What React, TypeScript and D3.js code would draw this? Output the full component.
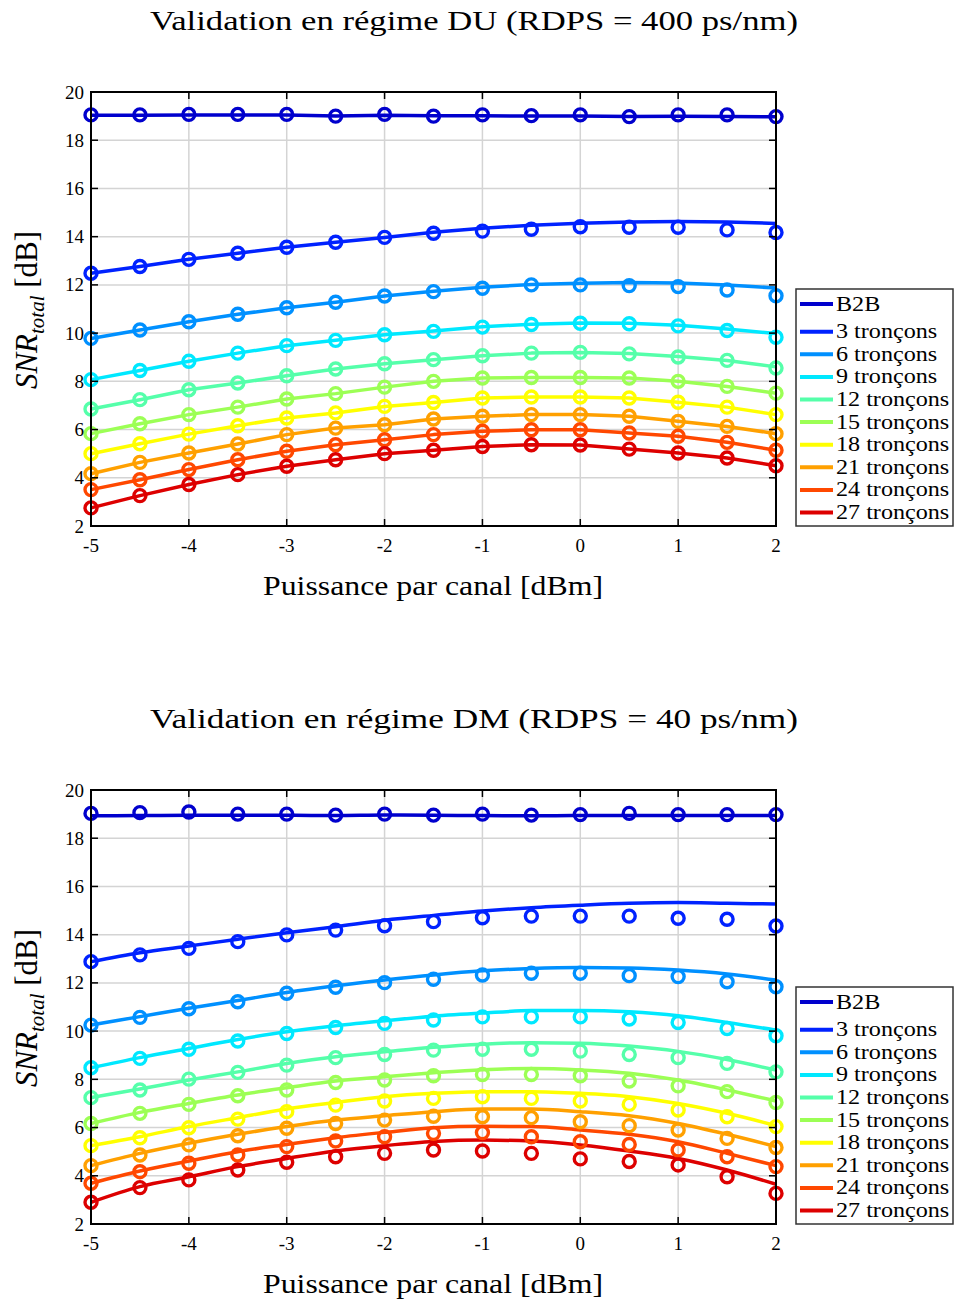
import React from "react";
import * as d3 from "d3";

// ---------- data ----------
const powers = [-5, -4.5, -4, -3.5, -3, -2.5, -2, -1.5, -1, -0.5, 0, 0.5, 1, 1.5, 2];
const seriesNames = ["B2B", "3 tronçons", "6 tronçons", "9 tronçons", "12 tronçons", "15 tronçons", "18 tronçons", "21 tronçons", "24 tronçons", "27 tronçons"];
const seriesColors = ["#0000cd", "#0022ff", "#0090ff", "#00e8ff", "#55ffaa", "#9cff55", "#ffff00", "#ffa000", "#ff4800", "#dd0000"];
const xTicks = [-5, -4, -3, -2, -1, 0, 1, 2];
const yTicks = [2, 4, 6, 8, 10, 12, 14, 16, 18, 20];

// DU regime (RDPS = 400 ps/nm) — measured (markers)
const duMesB2B = [19.05, 19.05, 19.07, 19.07, 19.07, 19.0, 19.07, 19.0, 19.05, 19.02, 19.05, 18.98, 19.05, 19.05, 18.98];
const duMes3 = [12.48, 12.76, 13.06, 13.31, 13.56, 13.77, 13.97, 14.14, 14.23, 14.31, 14.41, 14.39, 14.39, 14.28, 14.17];
const duMes6 = [9.78, 10.13, 10.47, 10.78, 11.05, 11.28, 11.54, 11.72, 11.86, 12.0, 12.0, 11.97, 11.93, 11.79, 11.55];
const duMes9 = [8.07, 8.45, 8.83, 9.17, 9.48, 9.7, 9.93, 10.07, 10.25, 10.36, 10.41, 10.39, 10.3, 10.11, 9.83];
const duMes12 = [6.85, 7.24, 7.65, 7.93, 8.23, 8.51, 8.73, 8.9, 9.06, 9.17, 9.2, 9.14, 9.01, 8.87, 8.55];
const duMes15 = [5.83, 6.24, 6.62, 6.93, 7.27, 7.49, 7.76, 8.0, 8.14, 8.16, 8.16, 8.14, 8.0, 7.79, 7.51];
const duMes18 = [5.0, 5.41, 5.81, 6.16, 6.48, 6.69, 6.96, 7.12, 7.31, 7.35, 7.35, 7.31, 7.13, 6.93, 6.62];
const duMes21 = [4.17, 4.64, 5.03, 5.4, 5.79, 6.06, 6.2, 6.44, 6.55, 6.62, 6.62, 6.55, 6.34, 6.13, 5.83];
const duMes24 = [3.51, 3.92, 4.34, 4.75, 5.1, 5.37, 5.58, 5.79, 5.93, 5.99, 5.99, 5.86, 5.72, 5.47, 5.14];
const duMes27 = [2.75, 3.26, 3.72, 4.13, 4.48, 4.75, 5.0, 5.14, 5.3, 5.37, 5.36, 5.19, 5.03, 4.82, 4.5];

// DU regime — model (lines)
const duSimB2B = [19.04, 19.04, 19.05, 19.05, 19.05, 19.0, 19.04, 19.01, 19.01, 19.0, 19.0, 18.98, 18.99, 18.98, 18.97];
const duSim3 = [12.48, 12.76, 13.06, 13.31, 13.56, 13.77, 13.97, 14.18, 14.35, 14.47, 14.56, 14.61, 14.63, 14.61, 14.55];
const duSim6 = [9.78, 10.13, 10.47, 10.78, 11.05, 11.28, 11.54, 11.74, 11.9, 12.02, 12.07, 12.1, 12.08, 12.0, 11.87];
const duSim9 = [8.07, 8.45, 8.83, 9.17, 9.48, 9.7, 9.93, 10.09, 10.26, 10.37, 10.42, 10.41, 10.33, 10.17, 9.98];
const duSim12 = [6.85, 7.24, 7.65, 7.93, 8.23, 8.51, 8.73, 8.9, 9.06, 9.17, 9.2, 9.15, 9.03, 8.86, 8.6];
const duSim15 = [5.83, 6.24, 6.62, 6.93, 7.27, 7.49, 7.76, 8.0, 8.14, 8.16, 8.16, 8.14, 8.0, 7.79, 7.51];
const duSim18 = [5.0, 5.41, 5.81, 6.16, 6.48, 6.69, 6.96, 7.12, 7.31, 7.35, 7.35, 7.31, 7.13, 6.93, 6.62];
const duSim21 = [4.17, 4.64, 5.03, 5.4, 5.79, 6.06, 6.2, 6.44, 6.55, 6.62, 6.62, 6.55, 6.34, 6.13, 5.83];
const duSim24 = [3.51, 3.92, 4.34, 4.75, 5.1, 5.37, 5.58, 5.79, 5.93, 5.99, 5.99, 5.86, 5.72, 5.47, 5.14];
const duSim27 = [2.75, 3.26, 3.72, 4.13, 4.48, 4.75, 5.0, 5.14, 5.3, 5.37, 5.36, 5.19, 5.03, 4.82, 4.5];

// DM regime (RDPS = 40 ps/nm) — measured (markers)
const dmMesB2B = [19.03, 19.06, 19.09, 19.0, 19.0, 18.96, 19.0, 18.96, 19.0, 18.96, 18.98, 19.03, 18.98, 18.98, 18.98];
const dmMes3 = [12.88, 13.16, 13.43, 13.71, 13.99, 14.19, 14.37, 14.54, 14.7, 14.77, 14.77, 14.77, 14.68, 14.64, 14.36];
const dmMes6 = [10.25, 10.57, 10.93, 11.22, 11.57, 11.82, 12.01, 12.15, 12.33, 12.4, 12.4, 12.3, 12.26, 12.05, 11.84];
const dmMes9 = [8.48, 8.87, 9.25, 9.59, 9.9, 10.15, 10.32, 10.46, 10.59, 10.59, 10.59, 10.5, 10.36, 10.11, 9.81];
const dmMes12 = [7.24, 7.56, 8.01, 8.29, 8.59, 8.9, 9.03, 9.21, 9.25, 9.25, 9.17, 9.03, 8.9, 8.66, 8.31];
const dmMes15 = [6.17, 6.59, 6.96, 7.32, 7.56, 7.87, 7.97, 8.15, 8.2, 8.2, 8.15, 7.93, 7.73, 7.49, 7.04];
const dmMes18 = [5.25, 5.58, 5.99, 6.35, 6.66, 6.93, 7.1, 7.21, 7.28, 7.21, 7.1, 6.96, 6.73, 6.45, 6.04];
const dmMes21 = [4.42, 4.86, 5.28, 5.66, 5.97, 6.17, 6.31, 6.47, 6.45, 6.41, 6.24, 6.08, 5.9, 5.55, 5.17];
const dmMes24 = [3.69, 4.17, 4.52, 4.86, 5.21, 5.44, 5.62, 5.76, 5.79, 5.62, 5.41, 5.3, 5.07, 4.79, 4.38];
const dmMes27 = [2.9, 3.51, 3.83, 4.24, 4.56, 4.79, 4.93, 5.07, 5.03, 4.93, 4.7, 4.59, 4.45, 3.96, 3.27];

// DM regime — model (lines)
const dmSimB2B = [18.93, 18.94, 18.95, 18.95, 18.95, 18.94, 18.96, 18.95, 18.94, 18.93, 18.94, 18.94, 18.94, 18.94, 18.94];
const dmSim3 = [12.88, 13.25, 13.53, 13.81, 14.08, 14.33, 14.6, 14.8, 14.98, 15.12, 15.22, 15.3, 15.33, 15.3, 15.27];
const dmSim6 = [10.25, 10.6, 10.95, 11.27, 11.6, 11.88, 12.12, 12.33, 12.5, 12.6, 12.64, 12.62, 12.53, 12.37, 12.12];
const dmSim9 = [8.48, 8.9, 9.28, 9.65, 9.97, 10.22, 10.43, 10.62, 10.75, 10.85, 10.86, 10.8, 10.64, 10.36, 10.04];
const dmSim12 = [7.24, 7.6, 7.97, 8.31, 8.66, 8.94, 9.14, 9.33, 9.46, 9.52, 9.5, 9.38, 9.16, 8.82, 8.38];
const dmSim15 = [6.17, 6.63, 7.0, 7.35, 7.65, 7.93, 8.11, 8.27, 8.4, 8.45, 8.39, 8.25, 7.97, 7.56, 7.1];
const dmSim18 = [5.25, 5.62, 6.04, 6.41, 6.77, 7.04, 7.28, 7.42, 7.49, 7.49, 7.42, 7.28, 7.0, 6.59, 6.08];
const dmSim21 = [4.42, 4.93, 5.35, 5.72, 6.04, 6.31, 6.49, 6.66, 6.77, 6.77, 6.66, 6.49, 6.17, 5.72, 5.21];
const dmSim24 = [3.69, 4.2, 4.61, 5.0, 5.3, 5.58, 5.8, 5.99, 6.05, 6.04, 5.9, 5.72, 5.41, 4.93, 4.42];
const dmSim27 = [2.9, 3.55, 3.96, 4.38, 4.72, 5.03, 5.25, 5.42, 5.48, 5.44, 5.28, 5.03, 4.72, 4.24, 3.65];

const duMes = [duMesB2B, duMes3, duMes6, duMes9, duMes12, duMes15, duMes18, duMes21, duMes24, duMes27];
const duSim = [duSimB2B, duSim3, duSim6, duSim9, duSim12, duSim15, duSim18, duSim21, duSim24, duSim27];
const dmMes = [dmMesB2B, dmMes3, dmMes6, dmMes9, dmMes12, dmMes15, dmMes18, dmMes21, dmMes24, dmMes27];
const dmSim = [dmSimB2B, dmSim3, dmSim6, dmSim9, dmSim12, dmSim15, dmSim18, dmSim21, dmSim24, dmSim27];

const FONT = "'Liberation Serif', 'Times New Roman', serif";

type PanelProps = {
  oy: number;
  title: string;
  mes: number[][];
  sim: number[][];
  smooth: boolean;
};

function Panel({ oy, title, mes, sim, smooth }: PanelProps) {
  const left = 91, right = 776, top = 92 + oy, bottom = 526 + oy;
  const x = d3.scaleLinear().domain([-5, 2]).range([left, right]);
  const y = d3.scaleLinear().domain([2, 20]).range([bottom, top]);
  const line = d3
    .line<number>()
    .x((_, i) => x(powers[i]))
    .y((v) => y(v))
    .curve(smooth ? d3.curveMonotoneX : d3.curveLinear);
  const tickLen = 7;
  const legX = 796, legY = 289 + oy;
  const legendYs = seriesNames.map((_, i) => (i === 0 ? 304 : 331.7 + (i - 1) * 22.6) + oy);
  return (
    <g>
      <text x={474} y={30 + oy} fontFamily={FONT} fontSize={28} textAnchor="middle" textLength={648} lengthAdjust="spacingAndGlyphs">
        Validation en régime {title}
      </text>
      {/* grid */}
      {xTicks.map((t) => (
        <line key={"gx" + t} x1={x(t)} x2={x(t)} y1={top} y2={bottom} stroke="#d4d4d4" strokeWidth={1.5} />
      ))}
      {yTicks.map((t) => (
        <line key={"gy" + t} x1={left} x2={right} y1={y(t)} y2={y(t)} stroke="#d4d4d4" strokeWidth={1.5} />
      ))}
      {/* series lines */}
      {sim.map((s, i) => (
        <path key={"l" + i} d={line(s) || ""} fill="none" stroke={seriesColors[i]} strokeWidth={3.5} strokeLinejoin="round" />
      ))}
      {/* markers */}
      {mes.map((s, i) =>
        s.map((v, j) => (
          <circle key={"m" + i + "-" + j} cx={x(powers[j])} cy={y(v)} r={6} fill="none" stroke={seriesColors[i]} strokeWidth={3.4} />
        ))
      )}
      {/* axes box */}
      <rect x={left} y={top} width={right - left} height={bottom - top} fill="none" stroke="#000" strokeWidth={2} />
      {xTicks.map((t) => (
        <g key={"xt" + t}>
          <line x1={x(t)} x2={x(t)} y1={bottom} y2={bottom - tickLen} stroke="#000" strokeWidth={1.5} />
          <line x1={x(t)} x2={x(t)} y1={top} y2={top + tickLen} stroke="#000" strokeWidth={1.5} />
          <text x={x(t)} y={bottom + 26} fontFamily={FONT} fontSize={19} textAnchor="middle">
            {t}
          </text>
        </g>
      ))}
      {yTicks.map((t) => (
        <g key={"yt" + t}>
          <line x1={left} x2={left + tickLen} y1={y(t)} y2={y(t)} stroke="#000" strokeWidth={1.5} />
          <line x1={right} x2={right - tickLen} y1={y(t)} y2={y(t)} stroke="#000" strokeWidth={1.5} />
          <text x={84} y={y(t) + 6.5} fontFamily={FONT} fontSize={19} textAnchor="end">
            {t}
          </text>
        </g>
      ))}
      {/* axis labels */}
      <text x={433} y={595 + oy} fontFamily={FONT} fontSize={27} textAnchor="middle" textLength={340} lengthAdjust="spacingAndGlyphs">
        Puissance par canal [dBm]
      </text>
      <text transform={`translate(37, ${310 + oy}) rotate(-90)`} fontFamily={FONT} fontSize={31} textAnchor="middle">
        <tspan fontStyle="italic">SNR</tspan>
        <tspan fontStyle="italic" fontSize={21} dy={7}>total</tspan>
        <tspan dy={-7}> [dB]</tspan>
      </text>
      {/* legend */}
      <rect x={legX} y={legY} width={157} height={237} fill="#fff" stroke="#333" strokeWidth={1.5} />
      {seriesNames.map((n, i) => (
        <g key={"lg" + i}>
          <line x1={800} x2={833} y1={legendYs[i]} y2={legendYs[i]} stroke={seriesColors[i]} strokeWidth={4} />
          <g transform={`translate(836, ${legendYs[i] + 6.5}) scale(1.15, 1)`}>
            <text x={0} y={0} fontFamily={FONT} fontSize={21}>
              {n}
            </text>
          </g>
        </g>
      ))}
    </g>
  );
}

export default function App() {
  return (
    <svg width={955} height={1302} style={{ position: "absolute", left: 0, top: 0, background: "#fff" }}>
      <rect x={0} y={0} width={955} height={1302} fill="#fff" />
      <Panel oy={0} title="DU (RDPS = 400 ps/nm)" mes={duMes} sim={duSim} smooth={false} />
      <Panel oy={698} title="DM (RDPS = 40 ps/nm)" mes={dmMes} sim={dmSim} smooth={true} />
    </svg>
  );
}
